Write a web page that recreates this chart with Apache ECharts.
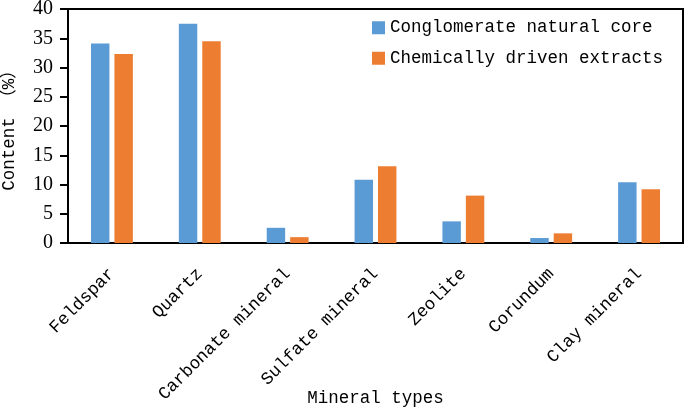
<!DOCTYPE html>
<html>
<head>
<meta charset="utf-8">
<script src="https://cdn.jsdelivr.net/npm/echarts@6/dist/echarts.min.js"></script>
<style>
html,body{margin:0;padding:0;background:#fff;}
#chart{width:685px;height:410px;}
</style>
</head>
<body>
<div id="chart"></div>
<script>
const categories = ['Feldspar', 'Quartz', 'Carbonate mineral', 'Sulfate mineral', 'Zeolite', 'Corundum', 'Clay mineral'];
const naturalCore = [34.1, 37.5, 2.6, 10.8, 3.7, 0.85, 10.4];
const chemExtracts = [32.3, 34.5, 1.0, 13.1, 8.1, 1.65, 9.2];
const seriesNames = ['Conglomerate natural core', 'Chemically driven extracts'];
const yTicks = { min: 0, max: 40, interval: 5 };

const mono = "'Liberation Mono', 'Noto Sans CJK SC', monospace";
const chart = echarts.init(document.getElementById('chart'));
chart.setOption({
  animation: false,
  color: ['#5B9BD5', '#ED7D31'],
  grid: { left: 68, right: 2, top: 9, bottom: 167, containLabel: false, outerBoundsMode: 'none', show: true, borderColor: '#000', borderWidth: 2, backgroundColor: 'transparent' },
  legend: {
    orient: 'vertical', left: 367, top: 14, itemWidth: 13, itemHeight: 13, itemGap: 13,
    icon: 'rect',
    textStyle: { fontFamily: mono, fontSize: 17.5, color: '#000' },
    data: seriesNames
  },
  xAxis: {
    type: 'category', data: categories,
    name: 'Mineral types', nameLocation: 'middle', nameGap: 147, nameMoveOverlap: false,
    nameTextStyle: { fontFamily: mono, fontSize: 17.5, color: '#000' },
    axisLine: { lineStyle: { color: '#000', width: 2 } },
    axisTick: { show: false },
    axisLabel: { rotate: 45, margin: 28, interval: 0, fontFamily: mono, fontSize: 17.5, color: '#000' }
  },
  yAxis: {
    type: 'value', min: yTicks.min, max: yTicks.max, interval: yTicks.interval,
    name: 'Content （%）', nameLocation: 'middle', nameGap: 50, nameMoveOverlap: false,
    nameTextStyle: { fontFamily: mono, fontSize: 17.5, color: '#000' },
    axisLine: { show: true, lineStyle: { color: '#000', width: 2 } },
    axisTick: { show: true, length: 8, lineStyle: { color: '#000', width: 2 } },
    axisLabel: { margin: 15, fontFamily: "'Liberation Serif', serif", fontSize: 20, color: '#000' },
    splitLine: { show: false }
  },
  series: [
    { name: seriesNames[0], type: 'bar', data: naturalCore, barWidth: '21%', barGap: '27%' },
    { name: seriesNames[1], type: 'bar', data: chemExtracts, barWidth: '21%', barGap: '27%' }
  ]
});
</script>
</body>
</html>
